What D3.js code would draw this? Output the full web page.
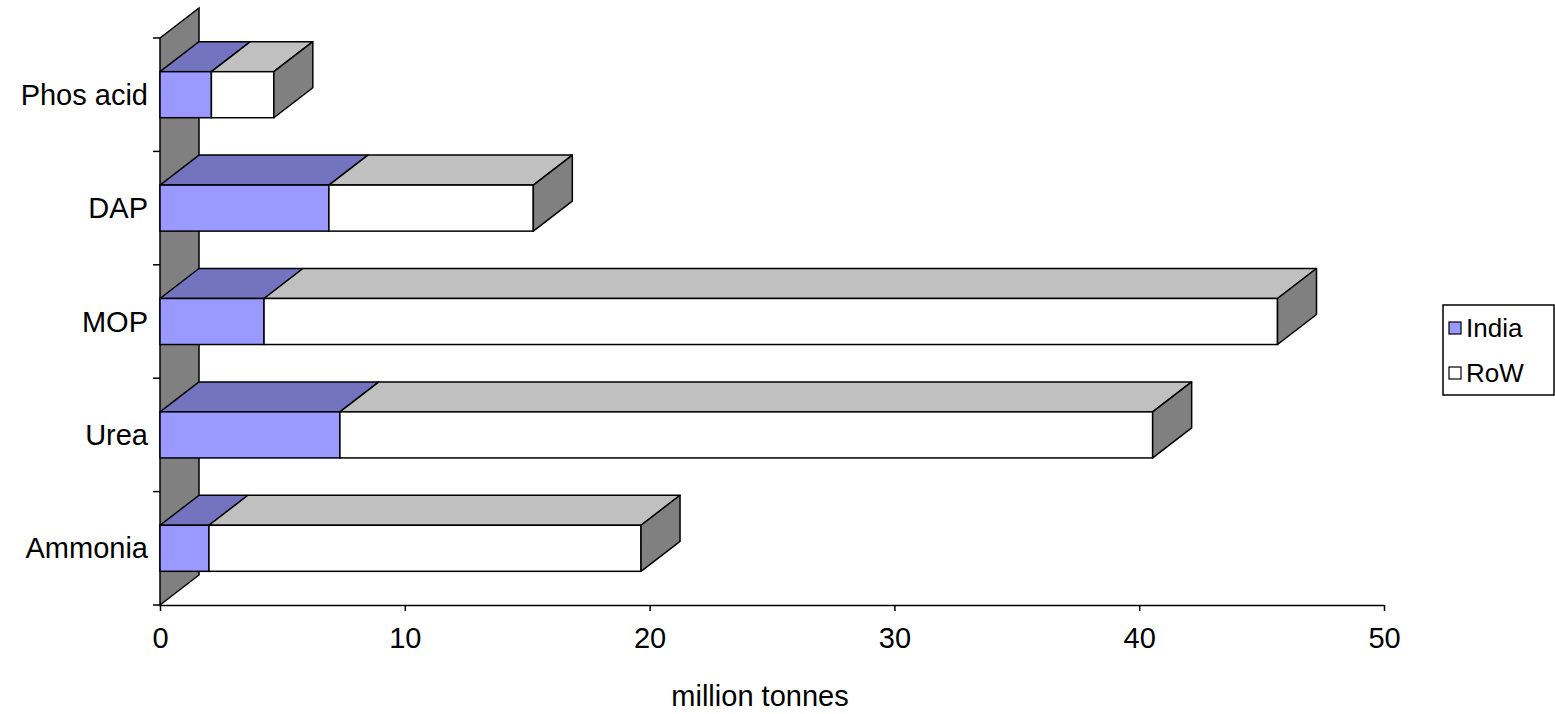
<!DOCTYPE html>
<html>
<head>
<meta charset="utf-8">
<script src="https://cdn.jsdelivr.net/npm/d3@7"></script>
<style>
  html, body { margin: 0; padding: 0; background: #fff; }
  svg { display: block; font-family: "Liberation Sans", Arial, sans-serif; }
</style>
</head>
<body>
<svg id="chart" width="1555" height="714"></svg>
<script>
// Fertiliser consumption, India vs rest of world (million tonnes)
const categories = ["Phos acid", "DAP", "MOP", "Urea", "Ammonia"];
const indiaValues = [2.1, 6.9, 4.25, 7.35, 2.0];
const rowValues = [2.55, 8.35, 41.4, 33.2, 17.65];
const seriesNames = ["India", "RoW"];
const xTicks = [0, 10, 20, 30, 40, 50];
const axisTitle = "million tonnes";

const svg = d3.select("#chart");

// plot geometry
const plotLeft = 160, plotRight = 1384, plotTop = 38, plotBottom = 605;
const depthX = 39, depthY = 30;   // oblique 3D offset
const fontSize = 29;

const x = d3.scaleLinear().domain([0, 50]).range([plotLeft, plotRight]);
const y = d3.scaleBand().domain(categories).range([plotTop, plotBottom])
  .paddingInner(0.594).paddingOuter(0.297);

const colors = {
  India: { front: "#9999ff", top: "#7373bf", side: "#5c5c99" },
  RoW:   { front: "#ffffff", top: "#c0c0c0", side: "#808080" }
};

const poly = pts => "M" + pts.map(p => p.join(",")).join("L") + "Z";

// side wall
svg.append("path")
  .attr("d", poly([[plotLeft, plotBottom], [plotLeft + depthX, plotBottom - depthY],
                   [plotLeft + depthX, plotTop - depthY], [plotLeft, plotTop]]))
  .attr("fill", "#808080").attr("stroke", "#000").attr("stroke-width", 1.5);

// category axis ticks (band boundaries)
const gap = (y.step() - y.bandwidth()) / 2;
const boundaries = categories.map(c => y(c) - gap).concat([plotBottom]);
svg.append("g").selectAll("line").data(boundaries).join("line")
  .attr("x1", plotLeft - 7).attr("x2", plotLeft)
  .attr("y1", d => d).attr("y2", d => d)
  .attr("stroke", "#000").attr("stroke-width", 1.5);

// x axis
const xAxis = d3.axisBottom(x).tickValues(xTicks).tickSize(6).tickPadding(16).tickSizeOuter(0);
const gx = svg.append("g").attr("transform", `translate(0,${plotBottom})`).call(xAxis);
gx.select(".domain").attr("stroke", "#000").attr("stroke-width", 1.5);
gx.selectAll(".tick line").attr("stroke", "#000").attr("stroke-width", 1.5);
gx.selectAll(".tick text").attr("font-size", fontSize).attr("fill", "#000")
  .attr("font-family", "Liberation Sans, Arial, sans-serif");

// bars
const stacked = categories.map((c, i) => ({
  cat: c,
  segs: [
    { name: "India", x0: 0, x1: indiaValues[i] },
    { name: "RoW", x0: indiaValues[i], x1: indiaValues[i] + rowValues[i] }
  ]
}));

const barG = svg.append("g");
stacked.forEach(d => {
  const y0 = y(d.cat), y1 = y0 + y.bandwidth();
  const g = barG.append("g");
  d.segs.forEach((s, k) => {
    const xa = x(s.x0), xb = x(s.x1);
    const col = colors[s.name];
    // top face
    g.append("path")
      .attr("d", poly([[xa, y0], [xa + depthX, y0 - depthY], [xb + depthX, y0 - depthY], [xb, y0]]))
      .attr("fill", col.top).attr("stroke", "#000").attr("stroke-width", 1.5).attr("stroke-linejoin", "round");
    // front face
    g.append("rect")
      .attr("x", xa).attr("y", y0).attr("width", xb - xa).attr("height", y1 - y0)
      .attr("fill", col.front).attr("stroke", "#000").attr("stroke-width", 1.5);
    // end face of the last segment
    if (k === d.segs.length - 1) {
      g.append("path")
        .attr("d", poly([[xb, y0], [xb + depthX, y0 - depthY], [xb + depthX, y1 - depthY], [xb, y1]]))
        .attr("fill", col.side).attr("stroke", "#000").attr("stroke-width", 1.5).attr("stroke-linejoin", "round");
    }
  });
});

// category labels
svg.append("g").selectAll("text").data(categories).join("text")
  .attr("x", 148).attr("y", c => y(c) + y.bandwidth() / 2)
  .attr("dy", "0.35em").attr("text-anchor", "end")
  .attr("font-size", fontSize).attr("fill", "#000").text(c => c);

// axis title
svg.append("text").attr("x", 760).attr("y", 696).attr("dy", "0.35em").attr("text-anchor", "middle")
  .attr("font-size", fontSize).attr("fill", "#000").text(axisTitle);

// legend
const lg = svg.append("g");
lg.append("rect").attr("x", 1443).attr("y", 305).attr("width", 111).attr("height", 90)
  .attr("fill", "#fff").attr("stroke", "#000").attr("stroke-width", 1.5);
seriesNames.forEach((n, i) => {
  const cy = 328 + i * 45;
  lg.append("rect").attr("x", 1449).attr("y", cy - 6).attr("width", 12).attr("height", 12)
    .attr("fill", colors[n].front).attr("stroke", "#000").attr("stroke-width", 1.2);
  lg.append("text").attr("x", 1466).attr("y", cy).attr("dy", "0.35em")
    .attr("font-size", 26).attr("fill", "#000").text(n);
});
</script>
</body>
</html>
